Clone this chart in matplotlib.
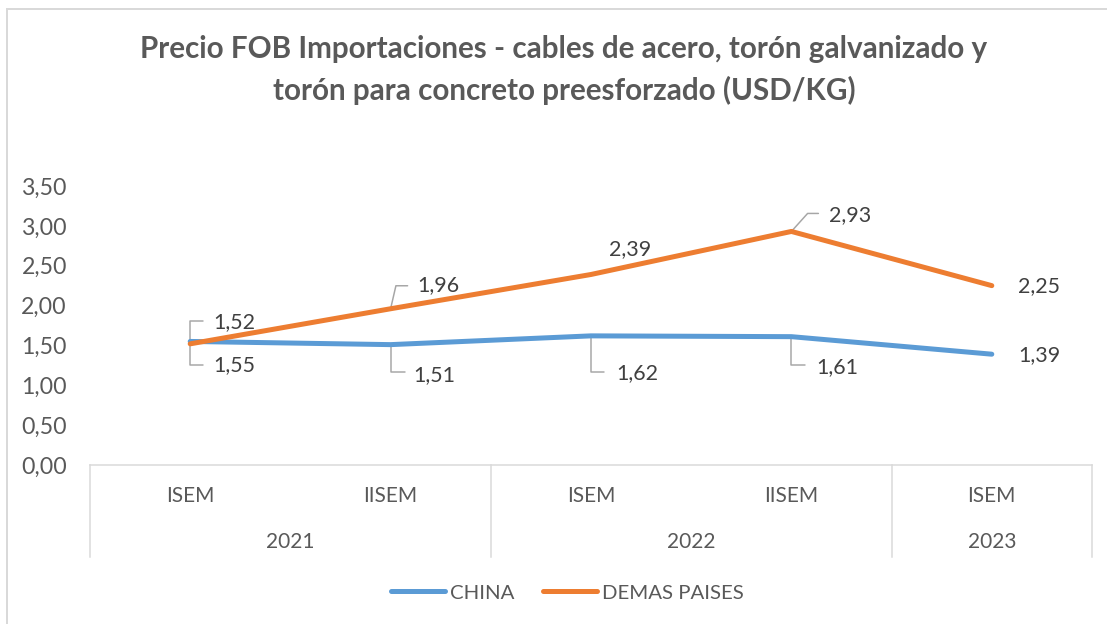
import matplotlib
matplotlib.use("Agg")
import matplotlib.pyplot as plt
from matplotlib.lines import Line2D
import matplotlib.transforms as mtransforms

# ---- data ----
semesters = ["ISEM", "IISEM", "ISEM", "IISEM", "ISEM"]
years = ["2021", "2022", "2023"]
year_spans = [2, 2, 1]
china = [1.55, 1.51, 1.62, 1.61, 1.39]
demas = [1.52, 1.96, 2.39, 2.93, 2.25]
yticks = [0.0, 0.5, 1.0, 1.5, 2.0, 2.5, 3.0, 3.5]
title = ("Precio FOB Importaciones - cables de acero, torón galvanizado y\n"
         "torón para concreto preesforzado (USD/KG)")

# ---- styles ----
W, H = 1107, 624
FONT = "Lato"
TXT = "#595959"
LBL = "#404040"
BLUE = "#5B9BD5"
ORANGE = "#ED7D31"
GRID = "#D9D9D9"
LEAD = "#A6A6A6"
px = 72 / 100.0  # pixels -> points

plt.rcParams["font.family"] = [FONT, "DejaVu Sans"]
fig = plt.figure(figsize=(W / 100, H / 100), dpi=100)
fig.patch.set_facecolor("white")

# chart border
fig.add_artist(plt.Rectangle((7 / W, -0.1), 1.2, (H - 9) / H + 0.1, transform=fig.transFigure,
                             fill=False, edgecolor=GRID, linewidth=2 * px))

L, R, T, B = 90, 1092, 186, 465
ax = fig.add_axes([L / W, (H - B) / H, (R - L) / W, (B - T) / H])
x = list(range(len(semesters)))
ax.set_xlim(-0.5, len(semesters) - 0.5)
ax.set_ylim(0, 3.5)
ax.set_yticks(yticks)
ax.set_yticklabels([f"{v:.2f}".replace(".", ",") for v in yticks], fontsize=16.7, color=TXT)
ax.tick_params(axis="y", length=0, pad=23 * px)
ax.set_xticks([])
for s in ["left", "right", "top"]:
    ax.spines[s].set_visible(False)
ax.spines["bottom"].set_color(GRID)
ax.spines["bottom"].set_linewidth(1.5 * px)

ax.plot(x, china, color=BLUE, lw=5 * px, solid_capstyle="round", solid_joinstyle="round", label="CHINA", zorder=3)
ax.plot(x, demas, color=ORANGE, lw=5 * px, solid_capstyle="round", solid_joinstyle="round", label="DEMAS PAISES", zorder=3)

# multi-level category axis
trans = mtransforms.blended_transform_factory(ax.transData, ax.transAxes)
axh = B - T
def ypix(off):
    return -off / axh

bounds = [-0.5]
for s in year_spans:
    bounds.append(bounds[-1] + s)
for b in bounds:
    ax.add_line(Line2D([b, b], [0, ypix(92)], transform=trans, color=GRID, lw=1.5 * px, clip_on=False))
for i, s in enumerate(semesters):
    ax.text(i, ypix(31), s, transform=trans, ha="center", va="center", fontsize=15, color=TXT)
for j, yv in enumerate(years):
    c = (bounds[j] + bounds[j + 1]) / 2
    ax.text(c, ypix(77), yv, transform=trans, ha="center", va="center", fontsize=15, color=TXT)

# data labels (offsets in pixels)
def fmt(v):
    return f"{v:.2f}".replace(".", ",")

china_off = [(23, -23.5), (23, -30), (25, -37), (25, -30), (26, -1)]
demas_off = [(23, 22), (27, 24), (18, 25.5), (38, 16.5), (26, 0)]
china_lead = [(13, -23.5, 90), (14, -27, 90), (13, -36, 90), (14, -28, 90), None]
demas_lead = [(13, 23, 90), (17, 23, 77), None, (27, 18, 48), None]

def leader(xi, v, spec):
    if spec is None:
        return
    dx, dy, ang = spec
    ax.annotate("", xy=(xi, v), xytext=(dx, dy), textcoords="offset pixels",
                arrowprops=dict(arrowstyle="-", color=LEAD, lw=1.5 * px, shrinkA=0, shrinkB=0,
                                connectionstyle=f"angle,angleA=0,angleB={ang},rad=0"),
                zorder=2, annotation_clip=False)

for i in x:
    ax.annotate(fmt(china[i]), (i, china[i]), xytext=china_off[i], textcoords="offset pixels",
                ha="left", va="center", fontsize=15.4, color=LBL)
    ax.annotate(fmt(demas[i]), (i, demas[i]), xytext=demas_off[i], textcoords="offset pixels",
                ha="left", va="center", fontsize=15.4, color=LBL)
    leader(i, china[i], china_lead[i])
    leader(i, demas[i], demas_lead[i])

# title
fig.text(564 / W, 1 - 70 / H, title, ha="center", va="center", fontsize=21.3, fontweight="bold",
         color=TXT, linespacing=1.5)

# legend
fs = 14.7
em = fs / px
fig.legend(loc="center", bbox_to_anchor=(567.5 / W, 1 - 593 / H), ncol=2, frameon=False, fontsize=fs,
           labelcolor=TXT, handlelength=54 / em, handletextpad=5 / em, columnspacing=29 / em)

fig.savefig("out.png", dpi=100)
